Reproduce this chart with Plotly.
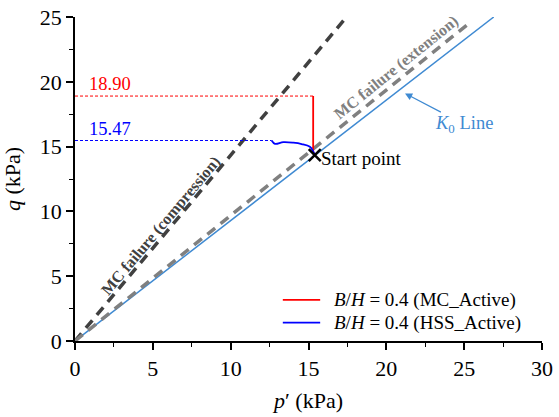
import plotly.graph_objects as go

# ---- data ----
k0_p = [0, 26.9]
k0_q = [0, 25.0]
comp_p = [0, 17.3]
comp_q = [0, 24.8]
ext_p = [0, 25.4]
ext_q = [0, 24.6]
mc_p = [15.4, 15.3, 15.3]
mc_q = [14.35, 14.6, 18.90]
hss_p = [15.41, 15.31, 15.09, 14.56, 14.02, 13.38, 12.85, 12.63]
hss_q = [14.35, 14.61, 14.99, 15.20, 15.30, 15.34, 15.21, 15.47]
mc_peak = 18.90
hss_peak = 15.47
start_p, start_q = 15.4, 14.35
x_ticks = [0, 5, 10, 15, 20, 25, 30]
y_ticks = [0, 5, 10, 15, 20, 25]
legend_labels = ["<i>B</i>/<i>H</i> = 0.4 (MC_Active)", "<i>B</i>/<i>H</i> = 0.4 (HSS_Active)"]
legend_colors = ["red", "blue"]

FONT = "Liberation Serif, Times New Roman, serif"
K0C = "#3f8ad2"

fig = go.Figure()
fig.add_trace(go.Scatter(x=k0_p, y=k0_q, mode="lines", line=dict(color=K0C, width=1.5), showlegend=False))
fig.add_trace(go.Scatter(x=comp_p, y=comp_q, mode="lines", line=dict(color="#404040", width=3.5, dash="10px,7px"), showlegend=False))
fig.add_trace(go.Scatter(x=ext_p, y=ext_q, mode="lines", line=dict(color="#808080", width=3.5, dash="10px,7px"), showlegend=False))
# guide dotted lines
fig.add_trace(go.Scatter(x=[0, mc_p[-1]], y=[mc_peak, mc_peak], mode="lines", line=dict(color="red", width=1, dash="3px,2px"), showlegend=False))
fig.add_trace(go.Scatter(x=[0, hss_p[-1]], y=[hss_peak, hss_peak], mode="lines", line=dict(color="blue", width=1, dash="3px,2px"), showlegend=False))
fig.add_trace(go.Scatter(x=mc_p, y=mc_q, mode="lines", line=dict(color="red", width=1.8),
                         name=legend_labels[0], showlegend=False))
fig.add_trace(go.Scatter(x=hss_p, y=hss_q, mode="lines", line=dict(color="blue", width=1.8, shape="spline"),
                         name=legend_labels[1], showlegend=False))
fig.add_trace(go.Scatter(x=[start_p], y=[start_q], mode="markers",
                         marker=dict(symbol="x-thin", size=12, line=dict(color="black", width=2.5)), showlegend=False))

ann = [
    dict(x=0.8, y=mc_peak, text=f"{mc_peak:.2f}", xanchor="left", yanchor="bottom", font=dict(color="red", size=18.5)),
    dict(x=0.8, y=hss_peak, text=f"{hss_peak:.2f}", xanchor="left", yanchor="bottom", font=dict(color="blue", size=18.5)),
    dict(x=start_p + 0.25, y=start_q - 0.3, text="Start point", xanchor="left", yanchor="middle", font=dict(color="black", size=19)),
    dict(x=5.5, y=8.9, text="<b>MC failure (compression)</b>", textangle=-50, font=dict(color="#404040", size=16)),
    dict(x=20.6, y=21.1, text="<b>MC failure (extension)</b>", textangle=-39, font=dict(color="#808080", size=16)),
    dict(x=23.0, y=16.7, text="<i>K</i><sub>0</sub> Line", xanchor="left", yanchor="middle", font=dict(color=K0C, size=18.5)),
    dict(x=21.2, y=19.1, ax=23.6, ay=17.6, axref="x", ayref="y", text="", showarrow=True,
         arrowhead=2, arrowsize=1.2, arrowwidth=1.2, arrowcolor=K0C),
]
for a in ann:
    a.setdefault("showarrow", False)
    a.setdefault("xref", "x")
    a.setdefault("yref", "y")
    fig.add_annotation(**a)

# hand-drawn legend (sample line + label), placed in paper coordinates
leg_y = [0.127, 0.057]
for lbl, col, yy in zip(legend_labels, legend_colors, leg_y):
    fig.add_shape(type="line", xref="paper", yref="paper", x0=0.445, x1=0.525, y0=yy, y1=yy,
                  line=dict(color=col, width=1.8))
    fig.add_annotation(xref="paper", yref="paper", x=0.55, y=yy, text=lbl, showarrow=False,
                       xanchor="left", yanchor="middle", font=dict(size=19, family=FONT, color="black"))

axis_common = dict(showline=True, linecolor="black", linewidth=1.5, ticks="outside", ticklen=7,
                   tickwidth=1.5, tickcolor="black", showgrid=False, zeroline=False, mirror=False,
                   tickfont=dict(size=22, family=FONT, color="black"),
                   minor=dict(ticks="outside", ticklen=4, tickwidth=1.2, tickcolor="black", dtick=2.5, showgrid=False))
fig.update_xaxes(range=[0, 30], tickvals=x_ticks, title=dict(text="<i>p</i>′ (kPa)", font=dict(size=22, family=FONT, color="black"), standoff=12), **axis_common)
fig.update_yaxes(range=[0, 25], tickvals=y_ticks, title=dict(text="<i>q</i> (kPa)", font=dict(size=22, family=FONT, color="black"), standoff=14), **axis_common)

fig.update_layout(
    width=559, height=417,
    margin=dict(l=75, r=17, t=17, b=76, autoexpand=False),
    plot_bgcolor="white", paper_bgcolor="white",
    font=dict(family=FONT, color="black"),
    showlegend=False,
)
# remove the browser's default 8px body margin so the figure sits at the page's top-left corner
fig.write_html("out.html", config={"displayModeBar": False},
               post_script="document.body.style.margin='0';")
